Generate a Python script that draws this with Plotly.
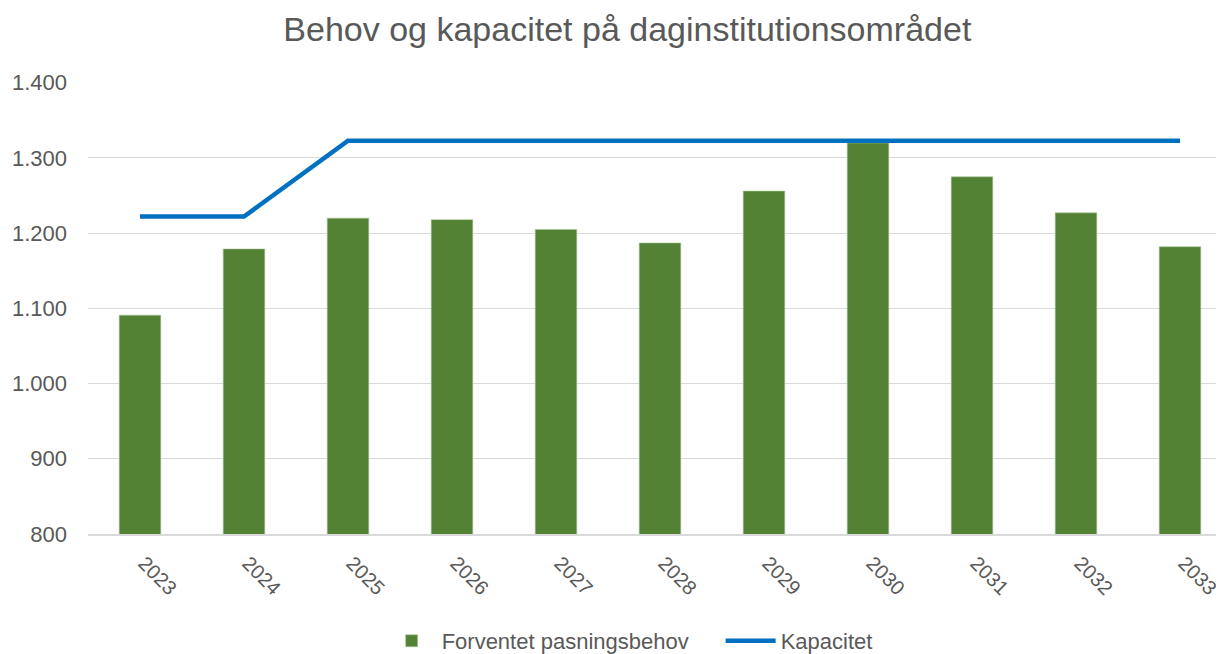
import plotly.graph_objects as go

years = ["2023", "2024", "2025", "2026", "2027", "2028", "2029", "2030", "2031", "2032", "2033"]
behov = [1091, 1179, 1220, 1218, 1205, 1187, 1256, 1320, 1275, 1227, 1182]
kapacitet = [1222, 1222, 1323, 1323, 1323, 1323, 1323, 1323, 1323, 1323, 1323]

tekst = "#595959"
fnt = "Liberation Sans"

fig = go.Figure()
fig.add_trace(go.Bar(
    x=years,
    y=behov,
    name="Forventet pasningsbehov",
    marker=dict(color="#548235", line=dict(color="#A9C79A", width=0.6)),
    width=0.4,
))
fig.add_trace(go.Scatter(
    x=years,
    y=kapacitet,
    name="Kapacitet",
    mode="lines",
    line=dict(color="#0070C0", width=4.5),
))

# the page puts the plot 8px in from the top-left corner
fig.update_layout(
    width=1224,
    height=654,
    plot_bgcolor="white",
    paper_bgcolor="white",
    separators=",.",
    font=dict(family=fnt, color=tekst, size=18),
    title=dict(
        text="Behov og kapacitet på daginstitutionsområdet",
        x=0.506, xanchor="center",
        y=1 - 21 / 654, yanchor="middle",
        font=dict(size=34, color=tekst, family=fnt),
    ),
    margin=dict(l=80, r=0, t=74, b=127),
    showlegend=True,
    legend=dict(
        orientation="h",
        x=0.553, xanchor="center",
        y=-0.238, yanchor="middle",
        font=dict(size=22, color=tekst),
        traceorder="normal",
        itemwidth=50,
        entrywidth=274,
        entrywidthmode="pixels",
    ),
    bargap=0.6,
)
fig.update_yaxes(
    range=[800, 1401],
    tickvals=[800, 900, 1000, 1100, 1200, 1300, 1400],
    tickformat=",",
    gridcolor="#D9D9D9",
    gridwidth=1.2,
    showline=False,
    zeroline=False,
    ticks="",
    ticklabelstandoff=20,
    automargin=False,
    tickfont=dict(size=22, color=tekst),
)
fig.update_xaxes(
    range=[-0.5, 10.5],
    tickangle=45,
    showline=True,
    linecolor="#D9D9D9",
    linewidth=1.5,
    ticks="",
    ticklabelstandoff=8,
    ticklabelshift=4,
    automargin=False,
    tickfont=dict(size=20, color=tekst),
)

fig.write_html("out.html")
